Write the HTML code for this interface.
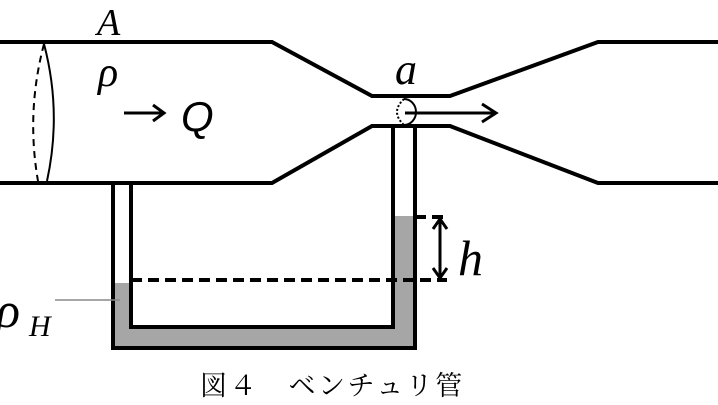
<!DOCTYPE html>
<html><head><meta charset="utf-8"><style>html,body{margin:0;padding:0;background:#fff}svg{display:block}</style></head><body>
<svg width="718" height="405" viewBox="0 0 718 405" xmlns="http://www.w3.org/2000/svg">
<path d="M113 283 L131 283 L131 327 L393 327 L393 216 L415 216 L415 348 L113 348 Z" fill="#a6a6a6"/>
<g fill="none" stroke="#000" stroke-width="4">
<polyline points="113,183 113,348 415,348 415,126"/>
<polyline points="131,183 131,327 393,327 393,126"/>
<polyline points="0,42 272,42 372,96 450,96 598,42 718,42"/>
<polyline points="0,183 272,183 372,126 450,126 598,183 718,183"/>
<line x1="131" y1="280" x2="447" y2="280" stroke-dasharray="11,6"/>
<line x1="415" y1="217" x2="447" y2="217" stroke-dasharray="11,6"/>
</g>
<path d="M44 44 Q62 112 47 181" fill="none" stroke="#000" stroke-width="2"/>
<path d="M44 44 Q26 112 38 181" fill="none" stroke="#000" stroke-width="2" stroke-dasharray="7,5"/>
<path d="M404 99 A12 13 0 0 1 404 125" fill="none" stroke="#000" stroke-width="2"/>
<path d="M404 99 Q390 112 404 125" fill="none" stroke="#000" stroke-width="2" stroke-dasharray="2,2"/>
<g fill="none" stroke="#000" stroke-width="3">
<line x1="405" y1="113" x2="496" y2="113"/><polyline points="482,104 496,113 482,122"/>
<line x1="124" y1="113" x2="164" y2="113"/><polyline points="153,105 164,113 153,121"/>
<line x1="440" y1="219" x2="440" y2="278"/>
<polyline points="433,229 440,219 447,229"/><polyline points="433,268 440,278 447,268"/>
</g>
<line x1="55" y1="300" x2="120" y2="300" stroke="#888" stroke-width="1.5"/>
<g font-family="'Liberation Serif',serif" font-style="italic" fill="#000">
<text x="97" y="35" font-size="38">A</text>
<text x="98" y="86" font-size="42">ρ</text>
<text x="395" y="84" font-size="44">a</text>
<text x="458" y="275" font-size="50">h</text>
<text x="-4" y="327" font-size="50">ρ</text>
<text x="29" y="336" font-size="30">H</text>
</g>
<text x="181" y="131" font-family="'Liberation Sans',sans-serif" font-style="italic" font-size="42">Q</text>
<text x="200" y="395" font-family="'Liberation Serif','Noto Serif CJK SC',serif" font-size="27" letter-spacing="2.5">図４　ベンチュリ管</text>
</svg>
</body></html>
